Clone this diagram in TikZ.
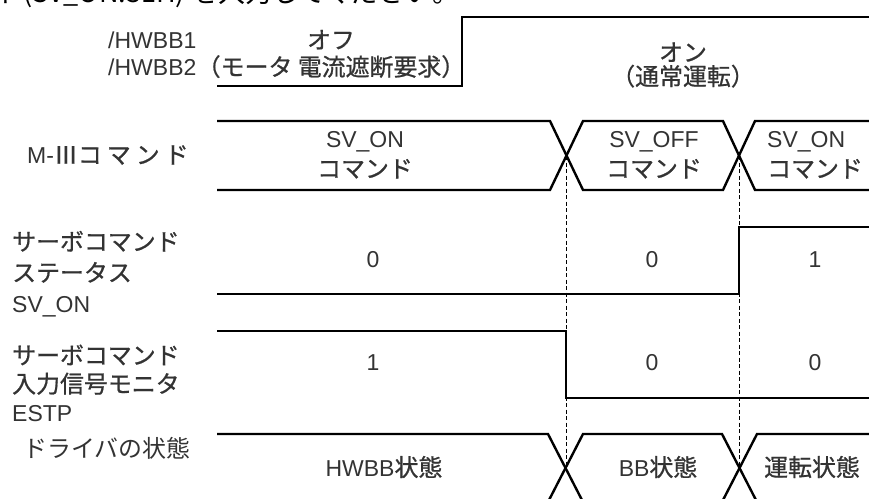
\documentclass[tikz,border=0pt]{standalone}
\usepackage{fontspec}
\setmainfont{Liberation Sans}
\newfontfamily\jp{Noto Sans CJK JP}[Scale=1.04,FakeBold=0.8]
\newfontfamily\jpthin{Noto Sans CJK JP}[Scale=1.04]

\begin{document}
\begin{tikzpicture}[x=1pt,y=-1pt,font=\fontsize{23}{27}\selectfont,
  wave/.style={line width=2.4pt,line join=miter},
  guide/.style={line width=1pt,dash pattern=on 4pt off 2.5pt},
  lbl/.style={anchor=west,align=left,inner sep=0pt,text=black!80},
  val/.style={align=center,inner sep=0pt,text=black!80}]
  \clip (0,0) rectangle (869,498);
  % line of text cut off at the top
  \node[anchor=base east,inner sep=0pt,font=\jpthin\fontsize{26}{30}\selectfont] (note) at (460,2) {ド(SV\_ON:31H) を入力してください。};
  % waveforms
  \draw[wave] (217,86) -- (462,86) -- (462,17) -- (875,17);
  \draw[wave] (217,121) -- (550,121) -- (583,190) -- (723,190) -- (755,121) -- (875,121);
  \draw[wave] (217,190) -- (550,190) -- (583,121) -- (723,121) -- (755,190) -- (875,190);
  \draw[wave] (217,294) -- (739,294) -- (739,227) -- (875,227);
  \draw[wave] (217,331) -- (566,331) -- (566,398) -- (875,398);
  \draw[wave] (217,434) -- (548,434) -- (583,502) -- (722,502) -- (757,434) -- (875,434);
  \draw[wave] (217,502) -- (548,502) -- (583,434) -- (722,434) -- (757,502) -- (875,502);
  \draw[guide] (566,156) -- (566,468);
  \draw[guide] (739,156) -- (739,468);
  % signal names
  \node[lbl] (hwbb) at (108,54) {/HWBB1\\/HWBB2};
  \node[lbl] (cmd) at (27,155) {M-{\jp Ⅲコ\hspace{5pt}マ\hspace{5pt}ン\hspace{5pt}ド}};
  \node[lbl,font=\fontsize{23}{31}\selectfont] (stat) at (12,274) {{\jp サーボコマンド}\\{\jp ステータス}\\SV\_ON};
  \node[lbl,font=\fontsize{23}{28.5}\selectfont] (estp) at (12,383) {{\jp サーボコマンド}\\{\jp 入力信号モニタ}\\ESTP};
  \node[lbl] (drv) at (23,448) {{\jpthin ドライバの状態}};
  % values
  \node[val] (off) at (331,54) {{\jp オフ}\\{\jp （モータ 電流遮断要求）}};
  \node[val,font=\fontsize{23}{24}\selectfont] (on) at (683,65) {{\jp オン}\\{\jp （通常運転）}};
  \node[val,font=\fontsize{23}{30}\selectfont] (svon) at (365,155) {SV\_ON\\{\jp コマンド}};
  \node[val,font=\fontsize{23}{30}\selectfont] (svoff) at (654,155) {SV\_OFF\\{\jp コマンド}};
  \node[lbl,font=\fontsize{23}{30}\selectfont] (svonb) at (767,155) {SV\_ON\\{\jp コマンド}};
  \node[val] (sa) at (373,260) {0};
  \node[val] (sb) at (652,260) {0};
  \node[val] (sc) at (815,260) {1};
  \node[val] (ea) at (373,363) {1};
  \node[val] (eb) at (652,363) {0};
  \node[val] (ec) at (815,363) {0};
  \node[val] (hwbbst) at (384,467) {HWBB{\jp 状態}};
  \node[val] (bbst) at (658,467) {BB{\jp 状態}};
  \node[val] (runst) at (812,467) {{\jp 運転状態}};
\end{tikzpicture}
\end{document}
